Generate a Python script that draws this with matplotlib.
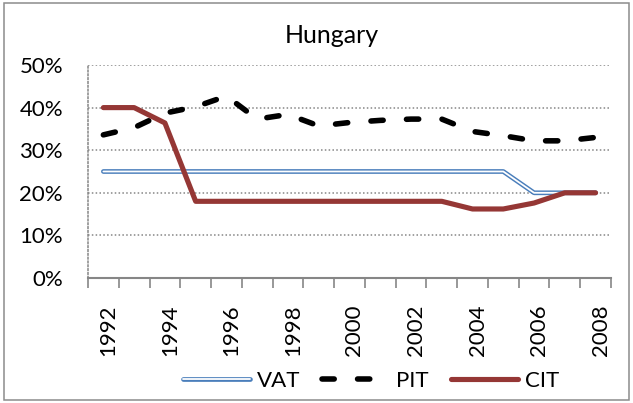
import matplotlib.pyplot as plt
from matplotlib.lines import Line2D
from matplotlib.legend_handler import HandlerTuple
from matplotlib.patches import Rectangle
from matplotlib.ticker import FuncFormatter
from matplotlib.transforms import ScaledTranslation

plt.rcParams['font.family'] = ['Lato', 'DejaVu Sans']

years = list(range(1992, 2009))
vat = [25, 25, 25, 25, 25, 25, 25, 25, 25, 25, 25, 25, 25, 25, 20, 20, 20]
pit = [33.6, 35.3, 38.7, 40.2, 42.7, 37.3, 38.4, 35.7, 36.5, 37.0, 37.3, 37.3,
       34.4, 33.4, 32.2, 32.2, 33.0]
cit = [40, 40, 36.4, 18, 18, 18, 18, 18, 18, 18, 18, 18, 16.2, 16.2, 17.6, 20, 20]

blue = '#4A7EBB'
red = '#953735'
grey = '#868686'
pit_dash = (2.2, 4.2)

fig = plt.figure(figsize=(6.33, 4.03), dpi=100)
ax = fig.add_axes([0.139, 0.3102, 0.8262, 0.5285])

x = list(range(len(years)))
vals_vat = [v / 100 for v in vat]
ax.plot(x, vals_vat, color=blue, lw=3.4, solid_capstyle='round', zorder=3)
ax.plot(x, vals_vat, color='white', lw=1.3, solid_capstyle='round', zorder=3)
ax.plot(x, [v / 100 for v in pit], color='black', lw=4.0, dashes=pit_dash,
        dash_capstyle='round', zorder=4)
ax.plot(x, [v / 100 for v in cit], color=red, lw=3.7, solid_capstyle='round',
        solid_joinstyle='round', zorder=5)

ax.set_xlim(-0.5, len(years) - 0.5)
ax.set_ylim(0, 0.5)
ax.set_yticks([0, 0.1, 0.2, 0.3, 0.4, 0.5])
ax.yaxis.set_major_formatter(FuncFormatter(lambda v, p: f'{v * 100:.0f}%'))
ax.yaxis.grid(True, linestyle=(0, (1, 1.5)), color=grey, lw=1.1)
ax.set_axisbelow(True)

ax.set_xticks(x[::2])
ax.set_xticklabels([str(y) for y in years[::2]], rotation=90)
ax.set_xticks([i - 0.5 for i in range(len(years) + 1)], minor=True)
ax.tick_params(axis='x', which='major', length=0, pad=19, labelsize=16)
ax.tick_params(axis='x', which='minor', length=7, width=1.2, color=grey)
ax.tick_params(axis='y', length=0, pad=18, labelsize=16)
shift = ScaledTranslation(0.05, 0, fig.dpi_scale_trans)
for lab in ax.get_xticklabels():
    lab.set_transform(lab.get_transform() + shift)

for s in ['top', 'right']:
    ax.spines[s].set_visible(False)
ax.spines['left'].set_linestyle((0, (1, 1.5)))
ax.spines['left'].set_color(grey)
ax.spines['left'].set_linewidth(1.1)
ax.spines['bottom'].set_color(grey)
ax.spines['bottom'].set_linewidth(1.5)

fig.text(0.5245, 0.893, 'Hungary', ha='center', va='baseline', fontsize=18)

h_vat = (Line2D([], [], color=blue, lw=3.4, solid_capstyle='round'),
         Line2D([], [], color='white', lw=1.3, solid_capstyle='round'))
h_pit = Line2D([], [], color='black', lw=4.0, dashes=pit_dash, dash_capstyle='round')
h_cit = Line2D([], [], color=red, lw=3.7, solid_capstyle='round')
fig.legend([h_vat, h_pit, h_cit], ['VAT', 'PIT', 'CIT'], ncol=3,
           loc='center', bbox_to_anchor=(0.586, 0.0546), frameon=False, fontsize=16,
           handlelength=3.0, handletextpad=0.32, columnspacing=1.0,
           handler_map={tuple: HandlerTuple(ndivide=1, pad=0)})

fig.patches.append(Rectangle((4 / 633, 3 / 403), 625 / 633, 397 / 403,
                             transform=fig.transFigure, fill=False,
                             edgecolor='#8c8c8c', lw=1.1))

fig.savefig('out.png', dpi=100)
